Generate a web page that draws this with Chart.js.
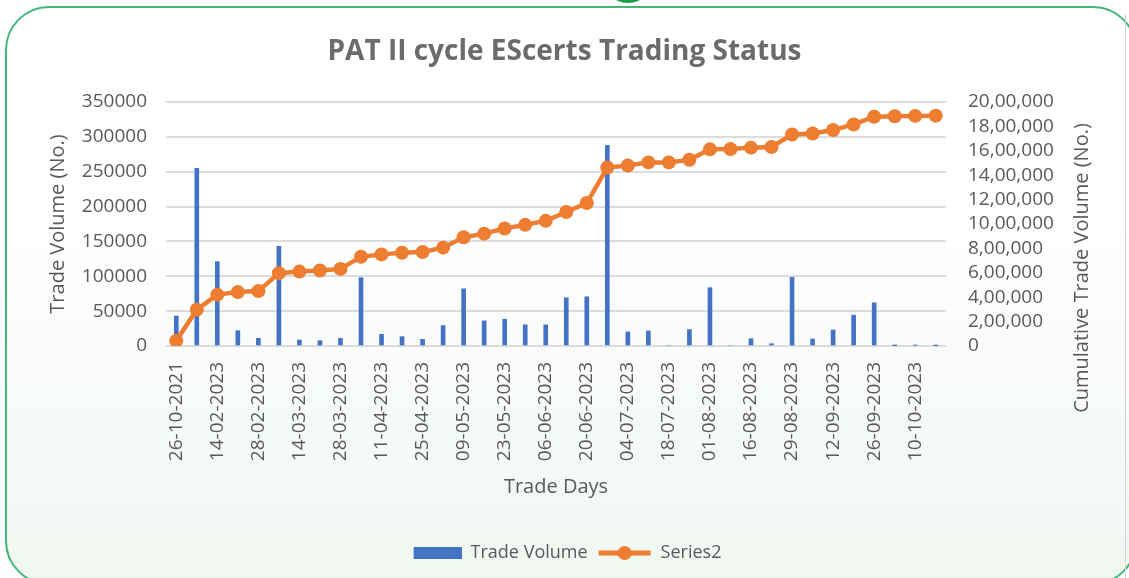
<!DOCTYPE html>
<html>
<head>
<meta charset="utf-8">
<script src="https://cdn.jsdelivr.net/npm/chart.js@4.4.1/dist/chart.umd.min.js"></script>
<style>
  html, body { margin: 0; padding: 0; background: #ffffff; }
  body { width: 1129px; height: 578px; position: relative; overflow: hidden; }
  .card {
    position: absolute; left: 5px; top: 6px; width: 1132px; height: 579px;
    box-sizing: border-box; border: 2px solid #41b874; border-radius: 44px;
    background: linear-gradient(to bottom, #ffffff 0%, #ffffff 35%, #f0f7f1 100%);
  }
  .blob { position: absolute; left: 614px; top: -10px; width: 28px; height: 13px; border-radius: 50%; background: #1c9a4c; }
  .edge { position: absolute; left: 1125px; top: 14px; width: 1px; height: 564px; background: #d4d4d4; }
  canvas { position: absolute; left: 0; top: 0; }
</style>
</head>
<body>
<div class="card"></div>
<div class="blob"></div>
<div class="edge"></div>
<canvas id="tradeChart" width="1129" height="578"></canvas>
<script>
// Trade days (every other one gets a tick label, like the original)
const tradeDays = [
  '26-10-2021', '07-02-2023', '14-02-2023', '21-02-2023', '28-02-2023', '07-03-2023',
  '14-03-2023', '21-03-2023', '28-03-2023', '04-04-2023', '11-04-2023', '18-04-2023',
  '25-04-2023', '02-05-2023', '09-05-2023', '16-05-2023', '23-05-2023', '30-05-2023',
  '06-06-2023', '13-06-2023', '20-06-2023', '27-06-2023', '04-07-2023', '11-07-2023',
  '18-07-2023', '25-07-2023', '01-08-2023', '08-08-2023', '16-08-2023', '22-08-2023',
  '29-08-2023', '05-09-2023', '12-09-2023', '19-09-2023', '26-09-2023', '03-10-2023',
  '10-10-2023', '17-10-2023'
];

// Trade Volume (No.) per day - left axis
const tradeVolume = [
  43000, 255000, 121000, 22000, 11000, 143000,
  8600, 7700, 11000, 98000, 16800, 13400,
  9600, 29300, 82000, 36000, 38400, 30300,
  30300, 69200, 70600, 288000, 20200, 21600,
  0, 23500, 83600, 0, 10500, 3300,
  98400, 10000, 23000, 44200, 62000, 500,
  1000, 500
];

// Series2 = cumulative trade volume - right axis
const cumulativeVolume = [
  43000, 298000, 421000, 442000, 450000, 597000,
  610000, 619000, 632000, 731000, 751000, 764000,
  770000, 806000, 891000, 921000, 963000, 993000,
  1026000, 1098000, 1172000, 1463000, 1480000, 1505000,
  1505000, 1527000, 1612000, 1614000, 1626000, 1631000,
  1733000, 1742000, 1770000, 1816000, 1879000, 1883000,
  1886000, 1888000
];

const BLUE = '#4472C4';
const ORANGE = '#ED7D31';
const GREY = '#595959';
const FONT = '"Open Sans", "Noto Sans", sans-serif';

// 20,00,000 style grouping
function indianFormat(v) {
  const s = String(Math.round(v));
  if (s.length <= 3) return s;
  const last3 = s.slice(-3);
  let rest = s.slice(0, -3);
  const parts = [];
  while (rest.length > 2) {
    parts.unshift(rest.slice(-2));
    rest = rest.slice(0, -2);
  }
  if (rest) parts.unshift(rest);
  return parts.join(',') + ',' + last3;
}

// legend symbols drawn like the spreadsheet legend
function legendIcon(kind) {
  const c = document.createElement('canvas');
  c.width = 54; c.height = 16;
  const g = c.getContext('2d');
  if (kind === 'bar') {
    g.fillStyle = BLUE;
    g.fillRect(6, 2, 48, 12);
  } else {
    g.strokeStyle = ORANGE;
    g.lineWidth = 5;
    g.beginPath(); g.moveTo(1, 8); g.lineTo(53, 8); g.stroke();
    g.fillStyle = ORANGE;
    g.beginPath(); g.arc(27, 8, 7, 0, Math.PI * 2); g.fill();
  }
  return c;
}

const rightTitle = {
  id: 'rightTitle',
  afterDraw(chart) {
    const s = chart.scales.y1;
    const ctx = chart.ctx;
    ctx.save();
    ctx.translate(s.right - 47, 268);
    ctx.rotate(-Math.PI / 2);
    ctx.font = '20px ' + FONT;
    ctx.fillStyle = GREY;
    ctx.textAlign = 'center';
    ctx.textBaseline = 'middle';
    ctx.fillText('Cumulative Trade Volume (No.)', 0, 0);
    ctx.restore();
  }
};

const ctx = document.getElementById('tradeChart');
new Chart(ctx, {
  type: 'bar',
  data: {
    labels: tradeDays,
    datasets: [
      {
        type: 'line',
        label: 'Series2',
        data: cumulativeVolume,
        yAxisID: 'y1',
        borderColor: ORANGE,
        backgroundColor: ORANGE,
        borderWidth: 4.5,
        pointRadius: 7,
        pointHoverRadius: 7,
        pointBorderWidth: 0,
        pointBackgroundColor: ORANGE,
        tension: 0,
        order: 1
      },
      {
        type: 'bar',
        label: 'Trade Volume',
        data: tradeVolume,
        yAxisID: 'y',
        backgroundColor: BLUE,
        barThickness: 4,
        order: 2
      }
    ]
  },
  options: {
    responsive: false,
    animation: false,
    devicePixelRatio: 1,
    layout: { padding: { top: 0, left: 0, right: 0, bottom: 6 } },
    plugins: {
      title: {
        display: true,
        text: 'PAT II cycle EScerts Trading Status',
        color: '#6b6b6b',
        font: { family: FONT, size: 28, weight: 'bold' },
        padding: { top: 35, bottom: 33.4 }
      },
      legend: {
        position: 'bottom',
        labels: {
          usePointStyle: true,
          pointStyleWidth: 54,
          color: GREY,
          font: { family: FONT, size: 18 },
          padding: 10,
          generateLabels(chart) {
            return [
              { text: 'Trade Volume', pointStyle: legendIcon('bar'), fontColor: GREY, datasetIndex: 1, lineWidth: 0, strokeStyle: 'transparent', fillStyle: BLUE },
              { text: 'Series2', pointStyle: legendIcon('line'), fontColor: GREY, datasetIndex: 0, lineWidth: 0, strokeStyle: 'transparent', fillStyle: ORANGE }
            ];
          }
        }
      },
      tooltip: { enabled: false }
    },
    scales: {
      x: {
        grid: { display: false, drawTicks: false },
        border: { display: false },
        ticks: {
          autoSkip: false,
          minRotation: 90,
          maxRotation: 90,
          padding: 16,
          color: GREY,
          font: { family: FONT, size: 19 },
          callback(value, index) {
            return index % 2 === 0 ? this.getLabelForValue(value) : '';
          }
        },
        title: {
          display: true,
          text: 'Trade Days',
          color: GREY,
          font: { family: FONT, size: 20 },
          padding: { top: 4, bottom: 35 }
        },
        afterFit(scale) { scale.height = 188; }
      },
      y: {
        position: 'left',
        min: 0,
        max: 350000,
        ticks: {
          stepSize: 50000,
          autoSkip: false,
          padding: 19,
          color: GREY,
          font: { family: FONT, size: 19 },
          callback: v => String(v)
        },
        grid: { color: '#dcdcdc', lineWidth: 2, drawTicks: false },
        border: { display: false },
        title: {
          display: true,
          text: 'Trade Volume (No.)',
          color: GREY,
          font: { family: FONT, size: 20 },
          padding: { top: 46, bottom: 4 }
        },
        afterFit(scale) { scale.width = 166; }
      },
      y1: {
        position: 'right',
        min: 0,
        max: 2000000,
        ticks: {
          stepSize: 200000,
          autoSkip: false,
          padding: 22,
          color: GREY,
          font: { family: FONT, size: 19 },
          callback: v => indianFormat(v)
        },
        grid: { drawOnChartArea: false, drawTicks: false },
        border: { display: false },
        afterFit(scale) { scale.width = 183; }
      }
    }
  },
  plugins: [rightTitle]
});
</script>
</body>
</html>
